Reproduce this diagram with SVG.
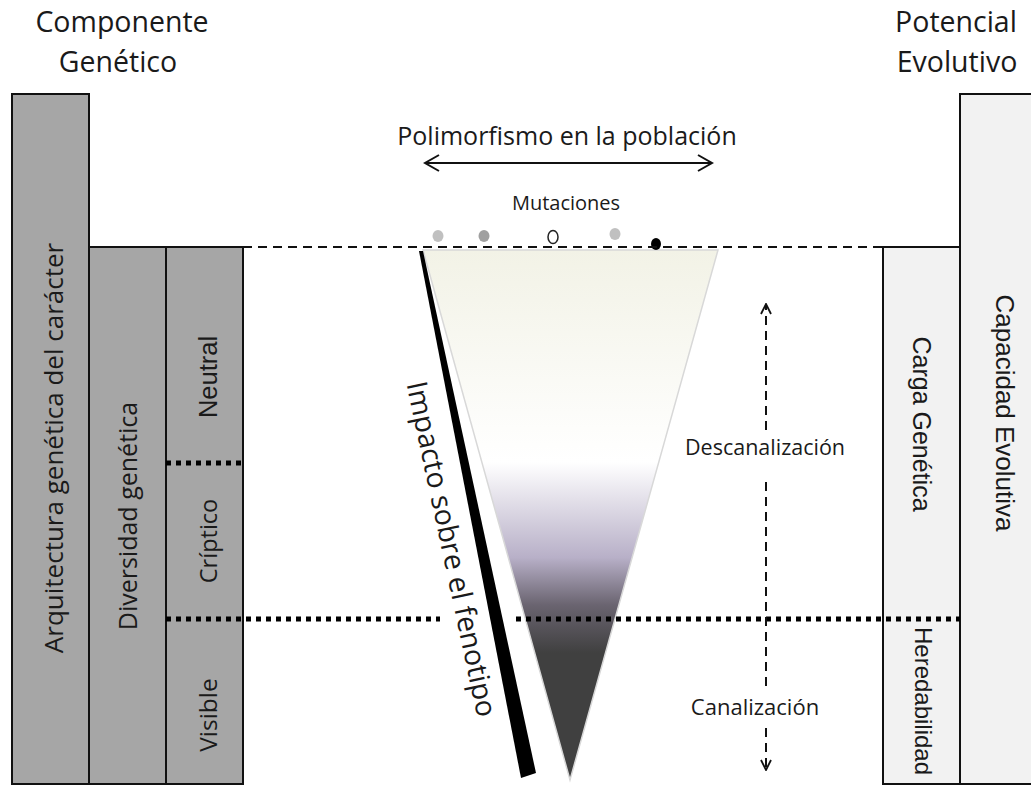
<svg xmlns="http://www.w3.org/2000/svg" width="1031" height="785" viewBox="0 0 1031 785">
<defs>
<style>
.t{font-family:"Open Sans","Liberation Sans",sans-serif;fill:#1a1a1a}
.a{font-family:"Liberation Sans",Arial,sans-serif;fill:#1a1a1a}
.gbox{fill:#a6a6a6;stroke:#111;stroke-width:2}
.lbox{fill:#f2f2f2;stroke:#111;stroke-width:2}
.dot{stroke:#000;stroke-width:5;stroke-dasharray:5 5;fill:none}
.dash{stroke:#111;stroke-width:2;stroke-dasharray:9 6;fill:none}
</style>
<linearGradient id="tg" gradientUnits="userSpaceOnUse" x1="0" y1="250" x2="0" y2="780">
<stop offset="0" stop-color="#f2f2e6"/>
<stop offset="0.4" stop-color="#ffffff"/>
<stop offset="0.58" stop-color="#b8b0c8"/>
<stop offset="0.67" stop-color="#6a6470"/>
<stop offset="0.76" stop-color="#404040"/>
<stop offset="1" stop-color="#404040"/>
</linearGradient>
<marker id="ah" viewBox="0 0 12 12" refX="11" refY="6" markerWidth="12" markerHeight="12" markerUnits="userSpaceOnUse" orient="auto-start-reverse">
<path d="M1,1 L11,6 L1,11" fill="none" stroke="#111" stroke-width="1.8"/>
</marker>
<marker id="bh" viewBox="0 0 20 20" refX="18" refY="10" markerWidth="20" markerHeight="20" markerUnits="userSpaceOnUse" orient="auto-start-reverse">
<path d="M4,2 L18,10 L4,18" fill="none" stroke="#111" stroke-width="2"/>
</marker>
</defs>
<rect width="1031" height="785" fill="#fff"/>

<g id="title-left">
<text class="t" x="122" y="32" font-size="28.5" text-anchor="middle">Componente</text>
<text class="t" x="118" y="72" font-size="28.5" text-anchor="middle">Genético</text>
</g>
<g id="title-right">
<text class="t" x="956" y="32" font-size="28.5" text-anchor="middle">Potencial</text>
<text class="t" x="957" y="72" font-size="28.5" text-anchor="middle">Evolutivo</text>
</g>

<g id="col-arquitectura">
<rect class="gbox" x="12" y="94" width="77" height="690"/>
<text class="t" font-size="26" text-anchor="middle" transform="translate(63,448) rotate(-90)">Arquitectura  genética del carácter</text>
</g>
<g id="col-diversidad">
<rect class="gbox" x="89" y="247" width="77" height="537"/>
<text class="t" font-size="25" text-anchor="middle" transform="translate(137,516) rotate(-90)">Diversidad genética</text>
</g>
<g id="col-tipos">
<rect class="gbox" x="166" y="247" width="77" height="537"/>
<text class="a" font-size="25.5" text-anchor="middle" transform="translate(217,377) rotate(-90)">Neutral</text>
<text class="t" font-size="23.5" text-anchor="middle" transform="translate(217,541) rotate(-90)">Críptico</text>
<text class="t" font-size="24.5" text-anchor="middle" transform="translate(217,715) rotate(-90)">Visible</text>
</g>
<g id="col-carga">
<rect class="lbox" x="883" y="247" width="77" height="537"/>
<text class="a" font-size="25" text-anchor="middle" transform="translate(913,424) rotate(90)">Carga  Genética</text>
<text class="a" font-size="24" text-anchor="middle" transform="translate(915,701) rotate(90)">Heredabilidad</text>
</g>
<g id="col-capacidad">
<rect class="lbox" x="960" y="94" width="80" height="690"/>
<text class="a" font-size="26" text-anchor="middle" transform="translate(996,413) rotate(90)">Capacidad Evolutiva</text>
</g>

<g id="triangle">
<polygon points="423,250 718,250 570,780" fill="url(#tg)" stroke="#d8d8d8" stroke-width="1.5"/>
</g>

<g id="impacto">
<polygon points="419,251 423,251 536,773 521,778" fill="#000"/>
<text class="t" font-size="28.5" text-anchor="middle" transform="translate(442,551) rotate(78)">Impacto sobre el fenotipo</text>
</g>

<g id="mutaciones">
<text class="t" x="566" y="210" font-size="20" text-anchor="middle">Mutaciones</text>
<ellipse cx="438" cy="236" rx="5.5" ry="6" fill="#c0c0c0"/>
<ellipse cx="484" cy="236" rx="5.5" ry="6" fill="#a0a0a0"/>
<ellipse cx="553" cy="237" rx="5" ry="6.5" fill="#fff" stroke="#222" stroke-width="1.5"/>
<ellipse cx="615" cy="234" rx="5.5" ry="6" fill="#c0c0c0"/>
<ellipse cx="656" cy="244" rx="5" ry="6" fill="#000"/>
</g>

<g id="polimorfismo">
<text class="t" x="567" y="145" font-size="25" text-anchor="middle">Polimorfismo en la población</text>
</g>

<g id="descanalizacion">
<text class="t" x="765" y="455" font-size="21.5" text-anchor="middle">Descanalización</text>
</g>
<g id="canalizacion">
<text class="t" x="755" y="715" font-size="22" text-anchor="middle">Canalización</text>
</g>

<g id="connectors">
<line x1="425" y1="163" x2="712" y2="163" stroke="#111" stroke-width="2" marker-start="url(#bh)" marker-end="url(#bh)"/>
<line class="dash" x1="243" y1="247" x2="883" y2="247"/>
<line class="dot" x1="166" y1="463" x2="243" y2="463"/>
<line class="dot" x1="166" y1="619" x2="440" y2="619"/>
<line class="dot" x1="516" y1="619" x2="960" y2="619"/>
<line class="dash" x1="766" y1="430" x2="766" y2="304" marker-end="url(#ah)"/>
<line class="dash" x1="766" y1="482" x2="766" y2="692"/>
<line class="dash" x1="766" y1="728" x2="766" y2="770" marker-end="url(#ah)"/>
</g>
</svg>
